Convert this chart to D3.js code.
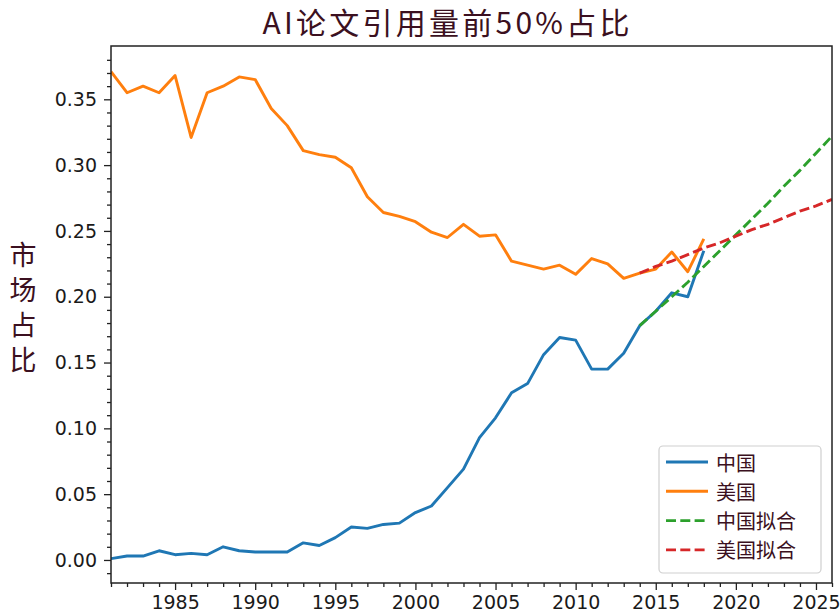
<!DOCTYPE html>
<html>
<head>
<meta charset="utf-8">
<script src="https://cdn.jsdelivr.net/npm/d3@7"></script>
<style>
  body { margin: 0; background: #fff; }
  svg { display: block; }
</style>
</head>
<body>
<svg id="chart" width="840" height="614"></svg>
<script>
// Data

const years = [
  1981, 1982, 1983, 1984, 1985, 1986, 1987, 1988, 1989, 1990,
  1991, 1992, 1993, 1994, 1995, 1996, 1997, 1998, 1999, 2000,
  2001, 2002, 2003, 2004, 2005, 2006, 2007, 2008, 2009, 2010,
  2011, 2012, 2013, 2014, 2015, 2016, 2017, 2018
]
const cnShare = [
  0.001, 0.003, 0.003, 0.007, 0.004, 0.005, 0.004, 0.010, 0.007, 0.006,
  0.006, 0.006, 0.013, 0.011, 0.017, 0.025, 0.024, 0.027, 0.028, 0.036,
  0.041, 0.055, 0.069, 0.093, 0.108, 0.127, 0.134, 0.156, 0.169, 0.167,
  0.145, 0.145, 0.157, 0.178, 0.189, 0.203, 0.200, 0.235
]
const usShare = [
  0.371, 0.355, 0.360, 0.355, 0.368, 0.321, 0.355, 0.360, 0.367, 0.365,
  0.343, 0.330, 0.311, 0.308, 0.306, 0.298, 0.276, 0.264, 0.261, 0.257,
  0.249, 0.245, 0.255, 0.246, 0.247, 0.227, 0.224, 0.221, 0.224, 0.217,
  0.229, 0.225, 0.214, 0.218, 0.221, 0.234, 0.219, 0.244
]
const fitYears = [2014, 2015, 2016, 2017, 2018, 2019, 2020, 2021, 2022, 2023, 2024, 2025, 2026]
const cnFit = [0.178, 0.189, 0.200, 0.211, 0.223, 0.235, 0.247, 0.259, 0.271, 0.284, 0.296, 0.309, 0.322]
const usFit = [0.218, 0.223, 0.227, 0.232, 0.237, 0.241, 0.246, 0.251, 0.255, 0.260, 0.265, 0.269, 0.274]

const xTicks = [1985, 1990, 1995, 2000, 2005, 2010, 2015, 2020, 2025]
const yTicks = [0, 0.05, 0.10, 0.15, 0.20, 0.25, 0.30, 0.35]

const seriesNames = ['中国', '美国', '中国拟合', '美国拟合']
const colors = ['#1f77b4', '#ff7f0e', '#2ca02c', '#d62728']

const titleText = 'AI论文引用量前50%占比'
const yLabelText = '市场占比'

// Layout

const plotLeft = 111
const plotRight = 832
const plotTop = 46
const plotBottom = 583
const maroon = '#3b1020'
const cjk = '"Noto Sans CJK SC", "Noto Sans", sans-serif'
const dash = '10,4.3'

const svg = d3.select('#chart')
svg.append('rect').attr('width', 840).attr('height', 614).attr('fill', '#fff')

const x = d3.scaleLinear().domain([1981, 2026]).range([plotLeft, plotRight])
const y = d3.scaleLinear().domain([-0.0175, 0.3905]).range([plotBottom, plotTop])

// Axes: major + minor ticks

function styleAxis (g) {
  g.select('.domain').remove()
  g.selectAll('line').attr('stroke', '#222').attr('stroke-width', 1.3)
  g.selectAll('text')
    .attr('fill', '#1a1a1a')
    .style('font-family', '"DejaVu Sans", sans-serif')
    .style('font-size', '19px')
}

const xMinor = d3.range(1981, 2027).filter(d => d % 5 !== 0)
const yMinor = d3.range(-1, 39).map(d => d / 100).filter(d => Math.round(d * 100) % 5 !== 0)

svg.append('g')
  .attr('transform', `translate(0,${plotBottom})`)
  .call(d3.axisBottom(x).tickValues(xMinor).tickSize(4).tickFormat(''))
  .call(styleAxis)

svg.append('g')
  .attr('transform', `translate(0,${plotBottom})`)
  .call(d3.axisBottom(x).tickValues(xTicks).tickSize(7).tickPadding(6).tickFormat(d3.format('d')))
  .call(styleAxis)

svg.append('g')
  .attr('transform', `translate(${plotLeft},0)`)
  .call(d3.axisLeft(y).tickValues(yMinor).tickSize(4).tickFormat(''))
  .call(styleAxis)

svg.append('g')
  .attr('transform', `translate(${plotLeft},0)`)
  .call(d3.axisLeft(y).tickValues(yTicks).tickSize(7).tickPadding(7).tickFormat(d3.format('.2f')))
  .call(styleAxis)

// Lines

svg.append('clipPath').attr('id', 'clip')
  .append('rect')
    .attr('x', plotLeft).attr('y', plotTop)
    .attr('width', plotRight - plotLeft).attr('height', plotBottom - plotTop)
const plot = svg.append('g').attr('clip-path', 'url(#clip)')

const line = d3.line().x(d => x(d[0])).y(d => y(d[1]))

const series = [
  { xs: years, ys: cnShare, dashed: false },
  { xs: years, ys: usShare, dashed: false },
  { xs: fitYears, ys: cnFit, dashed: true },
  { xs: fitYears, ys: usFit, dashed: true }
]

// draw order like matplotlib: data lines, then fits
series.forEach((s, i) => {
  plot.append('path')
    .attr('d', line(d3.zip(s.xs, s.ys)))
    .attr('fill', 'none')
    .attr('stroke', colors[i])
    .attr('stroke-width', 2.9)
    .attr('stroke-linejoin', 'round')
    .attr('stroke-dasharray', s.dashed ? dash : null)
})

// Frame

svg.append('rect')
  .attr('x', plotLeft).attr('y', plotTop)
  .attr('width', plotRight - plotLeft).attr('height', plotBottom - plotTop)
  .attr('fill', 'none')
  .attr('stroke', '#222')
  .attr('stroke-width', 1.5)

// Title and y label

svg.append('text')
  .attr('x', 446).attr('y', 34)
  .attr('text-anchor', 'middle')
  .attr('textLength', 367)
  .attr('lengthAdjust', 'spacing')
  .attr('fill', maroon)
  .style('font-family', cjk)
  .style('font-size', '30px')
  .text(titleText)

// stacked vertical label: one text in vertical writing mode
svg.append('text')
  .attr('x', 23).attr('y', 241)
  .attr('fill', maroon)
  .style('writing-mode', 'vertical-rl')
  .style('letter-spacing', '8px')
  .style('font-family', cjk)
  .style('font-size', '27px')
  .text(yLabelText)

// Legend

const legend = svg.append('g')
legend.append('rect')
  .attr('x', 659).attr('y', 446)
  .attr('width', 162).attr('height', 127)
  .attr('rx', 4)
  .attr('fill', '#fff').attr('fill-opacity', 0.85)
  .attr('stroke', '#cfcfcf').attr('stroke-width', 1.2)

const rows = legend.selectAll('g.row')
  .data(seriesNames)
  .join('g')
    .attr('class', 'row')
    .attr('transform', (d, i) => `translate(0,${462 + i * 29.3})`)

rows.append('line')
  .attr('x1', 666).attr('x2', 708)
  .attr('stroke', (d, i) => colors[i])
  .attr('stroke-width', 2.9)
  .attr('stroke-dasharray', (d, i) => series[i].dashed ? dash : null)

rows.append('text')
  .attr('x', 716)
  .attr('dominant-baseline', 'central')
  .attr('fill', maroon)
  .style('font-family', cjk)
  .style('font-size', '20px')
  .text(d => d)
</script>
</body>
</html>
